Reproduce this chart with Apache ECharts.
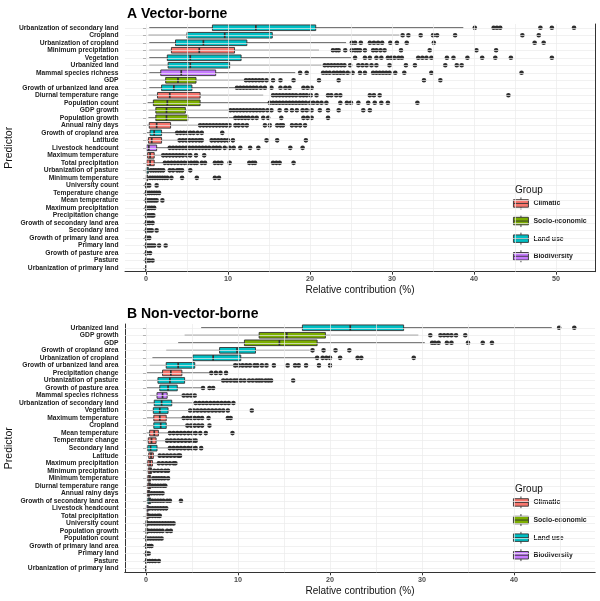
<!DOCTYPE html>
<html>
<head>
<meta charset="utf-8">
<script src="https://cdn.jsdelivr.net/npm/echarts@6/dist/echarts.min.js"></script>
<style>
  html, body { margin: 0; padding: 0; background: #fff; }
  #chart { width: 600px; height: 601px; }
</style>
</head>
<body>
<div id="chart"></div>
<script>
// --- groups ---
var groupNames = ['Climatic', 'Socio-economic', 'Land use', 'Biodiversity'];
var groupColors = ['#F8766D', '#7CAE00', '#00BFC4', '#C77CFF'];
var predictorGroup = {
  'Urbanization of secondary land': 'Land use',
  'Cropland': 'Land use',
  'Urbanization of cropland': 'Land use',
  'Minimum precipitation': 'Climatic',
  'Vegetation': 'Land use',
  'Urbanized land': 'Land use',
  'Mammal species richness': 'Biodiversity',
  'GDP': 'Socio-economic',
  'Growth of urbanized land area': 'Land use',
  'Diurnal temperature range': 'Climatic',
  'Population count': 'Socio-economic',
  'GDP growth': 'Socio-economic',
  'Population growth': 'Socio-economic',
  'Annual rainy days': 'Climatic',
  'Growth of cropland area': 'Land use',
  'Latitude': 'Climatic',
  'Livestock headcount': 'Biodiversity',
  'Maximum temperature': 'Climatic',
  'Total precipitation': 'Climatic',
  'Urbanization of pasture': 'Land use',
  'Minimum temperature': 'Climatic',
  'University count': 'Socio-economic',
  'Temperature change': 'Climatic',
  'Mean temperature': 'Climatic',
  'Maximum precipitation': 'Climatic',
  'Precipitation change': 'Climatic',
  'Growth of secondary land area': 'Land use',
  'Secondary land': 'Land use',
  'Growth of primary land area': 'Land use',
  'Primary land': 'Land use',
  'Growth of pasture area': 'Land use',
  'Pasture': 'Land use',
  'Urbanization of primary land': 'Land use'
};

// --- A: vector-borne ---
var predictorsA = [
  'Urbanization of secondary land', 'Cropland', 'Urbanization of cropland', 'Minimum precipitation',
  'Vegetation', 'Urbanized land', 'Mammal species richness', 'GDP', 'Growth of urbanized land area',
  'Diurnal temperature range', 'Population count', 'GDP growth', 'Population growth', 'Annual rainy days',
  'Growth of cropland area', 'Latitude', 'Livestock headcount', 'Maximum temperature', 'Total precipitation',
  'Urbanization of pasture', 'Minimum temperature', 'University count', 'Temperature change',
  'Mean temperature', 'Maximum precipitation', 'Precipitation change', 'Growth of secondary land area',
  'Secondary land', 'Growth of primary land area', 'Primary land', 'Growth of pasture area', 'Pasture',
  'Urbanization of primary land'
];
// [lower whisker, Q1, median, Q3, upper whisker]
var statsA = [
  [0.4, 8.1, 13.4, 20.7, 38.7],
  [0.3, 5.0, 9.6, 15.4, 30.9],
  [0.4, 3.6, 7.0, 12.3, 24.4],
  [0.4, 3.1, 6.5, 10.8, 21.1],
  [0.4, 2.6, 5.4, 11.6, 25.0],
  [0.4, 2.7, 5.4, 10.2, 21.4],
  [0.4, 1.8, 4.3, 8.5, 18.2],
  [0.4, 2.4, 3.9, 6.1, 12.0],
  [0.4, 1.9, 3.4, 5.6, 10.9],
  [0.3, 1.4, 2.9, 6.6, 14.3],
  [0.2, 0.9, 2.6, 6.6, 14.9],
  [0.3, 1.2, 2.5, 4.8, 10.1],
  [0.3, 1.2, 2.5, 5.1, 10.7],
  [0.1, 0.4, 1.3, 3.0, 6.5],
  [0.1, 0.5, 1.0, 1.9, 3.7],
  [0.0, 0.3, 0.7, 1.9, 3.9],
  [0.0, 0.1, 0.35, 1.3, 2.8],
  [0.0, 0.2, 0.5, 1.0, 2.0],
  [0.0, 0.1, 0.5, 1.0, 2.2],
  [0.0, 0.05, 0.1, 0.3, 0.5],
  [0.0, 0.05, 0.1, 0.2, 0.4],
  [0, 0, 0.02, 0.05, 0.08],
  [0, 0, 0.02, 0.05, 0.08],
  [0, 0, 0.02, 0.05, 0.08],
  [0, 0, 0.02, 0.05, 0.08],
  [0, 0, 0.02, 0.05, 0.08],
  [0, 0, 0.02, 0.05, 0.08],
  [0, 0, 0.02, 0.05, 0.08],
  [0, 0, 0.02, 0.05, 0.08],
  [0, 0, 0.02, 0.05, 0.08],
  [0, 0, 0.02, 0.05, 0.08],
  [0, 0, 0.02, 0.05, 0.08],
  [0, 0, 0, 0, 0]
];
var outliersA = [
  [40.1, 42.4, 42.8, 43.2, 48.1, 49.5, 52.2],
  [31.3, 32.0, 33.5, 35.0, 35.5, 37.7, 45.9, 47.9],
  [25.1, 25.5, 26.2, 27.3, 27.8, 28.3, 28.8, 29.8, 30.6, 31.8, 35.1, 47.4, 48.5],
  [22.8, 23.2, 23.5, 24.3, 25.1, 25.5, 25.8, 26.1, 26.7, 27.7, 28.1, 28.6, 29.1, 31.1, 34.6, 40.3, 42.7],
  [25.5, 26.7, 27.3, 28.1, 28.7, 29.5, 29.9, 30.3, 30.8, 31.2, 33.2, 33.7, 34.2, 34.8, 36.7, 37.5, 39.2, 41.0, 42.6, 44.5, 49.5],
  [21.8, 22.2, 22.6, 23.0, 23.4, 23.8, 24.2, 24.9, 25.9, 26.4, 26.9, 27.5, 28.1, 29.7, 31.7, 32.8, 36.5, 37.9, 38.5],
  [18.8, 19.6, 21.6, 22.0, 22.4, 22.9, 23.3, 23.7, 24.1, 24.6, 25.2, 26.1, 26.7, 27.7, 28.1, 28.5, 28.9, 29.3, 29.7, 30.4, 31.5, 34.8, 45.8],
  [12.2, 12.6, 13.0, 13.4, 13.8, 14.2, 14.7, 15.5, 16.4, 18.0, 21.1, 23.5, 33.9, 35.9],
  [11.1, 11.5, 11.9, 12.3, 12.7, 13.1, 13.5, 14.0, 14.5, 15.3, 16.4, 17.0, 17.5, 19.2, 19.7, 20.2],
  [15.5, 15.9, 16.3, 16.7, 17.1, 17.5, 17.9, 18.3, 18.8, 19.2, 19.6, 20.1, 20.8, 22.2, 22.6, 23.2, 23.7, 27.3, 27.8, 28.5, 44.2],
  [15.1, 15.5, 15.9, 16.3, 16.7, 17.1, 17.5, 17.9, 18.3, 18.7, 19.1, 19.5, 20.0, 20.4, 20.9, 21.4, 22.0, 23.7, 24.5, 25.0, 25.9, 27.1, 27.9, 28.7, 29.5, 33.1],
  [10.3, 10.7, 11.1, 11.5, 11.9, 12.3, 12.7, 13.1, 13.5, 13.9, 14.3, 14.8, 15.3, 16.3, 17.1, 17.8, 18.4, 19.1, 19.6, 20.2, 21.2, 22.2, 23.5, 26.5, 27.3],
  [10.9, 11.3, 11.7, 12.1, 12.5, 13.0, 13.5, 14.3, 14.9, 16.5, 19.2, 19.7, 20.2, 22.2],
  [6.6, 7.0, 7.4, 7.8, 8.2, 8.6, 9.0, 9.4, 9.8, 10.2, 10.9, 11.3, 11.8, 12.3, 14.5, 15.1, 16.0, 16.4, 16.7, 17.8, 18.3, 18.8, 19.4],
  [3.8, 4.2, 4.6, 5.0, 5.4, 5.8, 6.3, 6.8, 9.3],
  [4.1, 4.5, 4.9, 5.3, 5.7, 6.1, 6.5, 6.8, 8.0, 8.4, 8.8, 9.2, 9.6, 10.0, 10.6, 14.7, 16.0, 19.5],
  [2.9, 3.3, 3.7, 4.1, 4.5, 4.9, 5.3, 5.7, 6.1, 6.5, 6.9, 7.3, 7.7, 8.2, 8.6, 9.0, 9.6, 10.2, 10.7, 11.5, 12.7, 13.7, 17.6, 19.1],
  [2.1, 2.5, 2.9, 3.3, 3.7, 4.1, 4.5, 5.0, 5.4, 6.1, 7.1],
  [2.3, 2.7, 3.1, 3.5, 3.9, 4.3, 4.7, 5.1, 5.5, 5.9, 6.2, 6.8, 7.2, 8.4, 8.8, 9.2, 10.2, 12.6, 13.0, 13.3, 15.5, 15.9, 16.3, 18.0],
  [0.6, 0.9, 1.2, 1.5, 1.8, 2.1, 2.9, 3.3, 3.8, 4.1, 4.4, 5.4],
  [0.5, 0.8, 1.1, 1.4, 1.7, 2.0, 2.3, 2.6, 3.1, 4.4, 6.2, 8.4, 8.9],
  [0.1, 0.4, 1.3],
  [0.1, 0.4, 0.7, 1.0, 1.3, 1.6],
  [0.1, 0.4, 0.7, 1.0, 1.3, 2.0],
  [0.1, 0.4, 0.7, 1.0],
  [0.1, 0.4, 0.7, 0.9],
  [0.1, 0.4, 0.8],
  [0.1, 0.4, 0.7, 1.3],
  [0.1, 0.4],
  [0.1, 0.4, 0.7, 1.0, 1.6, 2.4],
  [0.1, 0.5],
  [0.1, 0.4, 0.8],
  []
];

// --- B: non-vector-borne ---
var predictorsB = [
  'Urbanized land', 'GDP growth', 'GDP', 'Growth of cropland area', 'Urbanization of cropland',
  'Growth of urbanized land area', 'Precipitation change', 'Urbanization of pasture', 'Growth of pasture area',
  'Mammal species richness', 'Urbanization of secondary land', 'Vegetation', 'Maximum temperature', 'Cropland',
  'Mean temperature', 'Temperature change', 'Secondary land', 'Latitude', 'Maximum precipitation',
  'Minimum precipitation', 'Minimum temperature', 'Diurnal temperature range', 'Annual rainy days',
  'Growth of secondary land area', 'Livestock headcount', 'Total precipitation', 'University count',
  'Population growth', 'Population count', 'Growth of primary land area', 'Primary land', 'Pasture',
  'Urbanization of primary land'
];
var statsB = [
  [6.0, 17.0, 22.2, 28.0, 44.1],
  [4.2, 12.3, 15.3, 19.5, 29.6],
  [3.5, 10.7, 14.5, 18.6, 30.3],
  [2.2, 8.0, 9.9, 11.9, 17.8],
  [0.7, 5.1, 7.3, 10.3, 18.4],
  [0.4, 2.2, 3.5, 5.3, 9.6],
  [0.1, 1.8, 2.7, 3.9, 7.0],
  [0.1, 1.3, 2.6, 4.2, 8.3],
  [0.1, 1.5, 2.4, 3.4, 6.0],
  [0.4, 1.2, 1.8, 2.3, 4.0],
  [0.1, 0.9, 1.7, 2.8, 5.3],
  [0.1, 0.8, 1.5, 2.4, 4.7],
  [0.1, 0.85, 1.5, 2.2, 4.0],
  [0.1, 0.85, 1.6, 2.2, 4.4],
  [0.0, 0.4, 0.9, 1.35, 2.5],
  [0.0, 0.25, 0.6, 1.1, 2.2],
  [0.0, 0.2, 0.5, 1.2, 2.5],
  [0.0, 0.3, 0.55, 0.8, 1.5],
  [0.0, 0.2, 0.45, 0.7, 1.3],
  [0.0, 0.25, 0.45, 0.6, 0.9],
  [0.0, 0.2, 0.35, 0.5, 0.7],
  [0.0, 0.2, 0.35, 0.5, 0.6],
  [0.0, 0.15, 0.3, 0.4, 0.5],
  [0.0, 0.2, 0.35, 0.5, 0.6],
  [0.0, 0.05, 0.1, 0.25, 0.35],
  [0.0, 0.05, 0.1, 0.25, 0.35],
  [0.0, 0.02, 0.05, 0.15, 0.25],
  [0.0, 0.02, 0.05, 0.15, 0.25],
  [0, 0, 0.02, 0.05, 0.1],
  [0, 0, 0.02, 0.05, 0.08],
  [0, 0, 0.02, 0.05, 0.08],
  [0, 0, 0.02, 0.05, 0.08],
  [0, 0, 0, 0, 0]
];
var outliersB = [
  [44.9, 46.55],
  [30.9, 32.0, 32.4, 32.8, 33.2, 33.7, 34.7],
  [31.1, 31.4, 31.8, 32.7, 33.2, 35.0, 36.6, 37.6],
  [18.1, 19.3, 20.6, 22.1],
  [18.6, 19.2, 19.6, 20.0, 21.1, 23.0, 23.4, 29.1],
  [9.7, 10.1, 10.5, 10.9, 11.3, 11.8, 12.1, 12.6, 13.1, 13.9, 15.4, 16.2, 16.6, 17.4, 18.8, 20.0],
  [7.1, 7.6, 8.1, 8.7],
  [8.4, 8.8, 9.2, 9.6, 9.9, 10.3, 10.7, 11.2, 11.6, 12.0, 12.3, 12.6, 13.0, 13.3, 13.6, 16.0],
  [6.2, 6.9, 7.3],
  [4.1, 4.5, 4.9, 5.3],
  [5.4, 5.8, 6.2, 6.6, 7.0, 7.4, 7.8, 8.2, 8.6, 9.0, 9.5],
  [4.8, 5.2, 5.6, 6.0, 6.4, 6.8, 7.2, 7.6, 8.0, 8.4, 8.9, 11.5],
  [4.1, 4.5, 4.9, 5.3, 5.7, 6.1, 6.8, 8.9, 9.2],
  [4.5, 4.9, 5.3, 5.7, 6.1, 6.9],
  [2.6, 3.0, 3.4, 3.8, 4.2, 4.6, 5.0, 5.4, 5.9, 6.5, 9.4],
  [2.3, 2.7, 3.1, 3.5, 3.9, 4.3, 4.7, 5.1, 5.4],
  [2.6, 3.0, 3.4, 3.8, 4.2, 4.6, 5.0, 5.4, 6.0],
  [1.5, 1.9, 2.3, 2.7, 3.1, 3.5, 3.7],
  [1.4, 1.8, 2.2, 2.6, 3.0, 3.2],
  [0.9, 1.3, 1.7, 2.1, 2.4],
  [0.8, 1.1, 1.4, 1.7, 2.0, 2.4],
  [0.7, 1.0, 1.3, 1.6, 1.9, 2.1],
  [0.6, 0.9, 1.2, 1.5, 1.8],
  [0.7, 1.0, 1.3, 1.6, 1.9, 2.3, 2.6, 3.8],
  [0.4, 0.7, 1.0, 1.3, 1.6, 1.9, 2.2],
  [0.4, 0.7, 1.0, 1.3, 1.5],
  [0.3, 0.6, 0.9, 1.2, 1.5, 1.8, 2.1, 2.4, 2.7, 3.0],
  [0.3, 0.6, 0.9, 1.2, 1.5, 1.8, 2.3, 2.7],
  [0.2, 0.5, 0.8, 1.1, 1.4, 1.7],
  [0.1, 0.4, 0.6],
  [0.1, 0.3],
  [0.1, 0.4, 0.7, 1.0, 1.4],
  []
];

var ticksA = [0, 10, 20, 30, 40, 50];
var ticksB = [0, 10, 20, 30, 40];
var gridStepsA = [0, 5, 10, 15, 20, 25, 30, 35, 40, 45, 50];
var gridStepsB = [0, 5, 10, 15, 20, 25, 30, 35, 40, 45];

var ink = '#333333';
var font = 'Liberation Sans, Arial, sans-serif';

function renderBox(params, api) {
  var cat = api.value(0);
  var lo = api.coord([api.value(1), cat]);
  var q1 = api.coord([api.value(2), cat]);
  var md = api.coord([api.value(3), cat]);
  var q3 = api.coord([api.value(4), cat]);
  var hi = api.coord([api.value(5), cat]);
  var h = api.size([0, 1])[1] * 0.75;
  var y = lo[1];
  return {
    type: 'group',
    children: [
      { type: 'line', shape: { x1: lo[0], y1: y, x2: hi[0], y2: y }, style: { stroke: ink, lineWidth: 0.9 } },
      { type: 'rect', shape: { x: q1[0], y: y - h / 2, width: q3[0] - q1[0], height: h },
        style: { fill: api.visual('color'), stroke: ink, lineWidth: 0.9 } },
      { type: 'line', shape: { x1: md[0], y1: y - h / 2, x2: md[0], y2: y + h / 2 }, style: { stroke: ink, lineWidth: 1.7 } }
    ]
  };
}

function panelSeries(names, stats, outliers, steps, xi, yi) {
  var list = [];
  // grid lines
  var lines = [];
  steps.forEach(function(v) { lines.push({ xAxis: v }); });
  names.forEach(function(n) { lines.push({ yAxis: n }); });
  list.push({
    type: 'line', xAxisIndex: xi, yAxisIndex: yi, data: [], z: 1, silent: true,
    markLine: {
      silent: true, symbol: 'none', animation: false,
      label: { show: false },
      lineStyle: { color: '#EBEBEB', width: 0.7, type: 'solid' },
      emphasis: { disabled: true },
      data: lines
    }
  });
  groupNames.forEach(function(g, gi) {
    var data = [];
    names.forEach(function(n, i) {
      if (predictorGroup[n] === g) data.push([i].concat(stats[i]));
    });
    list.push({
      type: 'custom', name: g, xAxisIndex: xi, yAxisIndex: yi, z: 3,
      itemStyle: { color: groupColors[gi] },
      encode: { x: [1, 2, 3, 4, 5], y: 0 },
      renderItem: renderBox,
      data: data
    });
  });
  var pts = [];
  outliers.forEach(function(arr, i) {
    arr.forEach(function(v) { pts.push([v, i]); });
  });
  list.push({
    type: 'scatter', xAxisIndex: xi, yAxisIndex: yi, z: 4, silent: true,
    symbol: 'circle', symbolSize: 4.6,
    itemStyle: { color: '#2E2E2E', opacity: 1 },
    data: pts
  });
  return list;
}

function valueAxis(gi, min, max, ticks) {
  return {
    type: 'value', gridIndex: gi, min: min, max: max,
    axisLine: { show: true, onZero: false, lineStyle: { color: ink, width: 1 } },
    axisTick: { show: true, customValues: ticks, length: 3, lineStyle: { color: ink } },
    axisLabel: { customValues: ticks, fontSize: 7.2, fontWeight: 'bold', color: '#4D4D4D', fontFamily: font, margin: 4 },
    splitLine: { show: false },
    name: 'Relative contribution (%)', nameLocation: 'middle', nameGap: 14,
    nameTextStyle: { fontSize: 10, color: '#111', fontFamily: font }
  };
}

function catAxis(gi, names) {
  return {
    type: 'category', gridIndex: gi, data: names, inverse: true,
    axisLine: { show: false },
    axisTick: { show: true, alignWithLabel: true, length: 3, lineStyle: { color: ink } },
    axisLabel: { fontSize: 6.7, fontWeight: 'bold', color: '#222', fontFamily: font, margin: 6.5, interval: 0 },
    splitLine: { show: false },
    name: 'Predictor', nameLocation: 'middle', nameRotate: 90, nameGap: 110, nameMoveOverlap: false,
    nameTextStyle: { fontSize: 10.5, color: '#111', fontFamily: font }
  };
}

function borderAxisY(gi) {
  return {
    type: 'value', gridIndex: gi, position: 'right',
    axisLine: { show: true, lineStyle: { color: ink, width: 1 } },
    axisTick: { show: false }, axisLabel: { show: false }, splitLine: { show: false }
  };
}

var legendIcon = 'path://M7.5,0L7.5,2.25M0,2.25L15,2.25L15,9.75L0,9.75ZM7.5,9.75L7.5,12M0,6L15,6';

function legend(top) {
  return {
    data: groupNames, orient: 'vertical', left: 513, top: top,
    itemWidth: 15, itemHeight: 12, itemGap: 4.7, padding: 0,
    icon: legendIcon, selectedMode: false,
    itemStyle: { borderColor: ink, borderWidth: 0.9 },
    textStyle: { fontSize: 6.9, fontWeight: 'bold', color: '#222', fontFamily: font }
  };
}

var chart = echarts.init(document.getElementById('chart'), null, { renderer: 'canvas' });
chart.setOption({
  animation: false,
  backgroundColor: '#fff',
  title: [
    { text: 'A Vector-borne', left: 122, top: 2, textStyle: { fontSize: 14, fontWeight: 'bold', color: '#000', fontFamily: font } },
    { text: 'B Non-vector-borne', left: 122, top: 302, textStyle: { fontSize: 14, fontWeight: 'bold', color: '#000', fontFamily: font } },
    { text: 'Group', left: 510, top: 180, textStyle: { fontSize: 10, fontWeight: 'normal', color: '#111', fontFamily: font } },
    { text: 'Group', left: 510, top: 479, textStyle: { fontSize: 10, fontWeight: 'normal', color: '#111', fontFamily: font } }
  ],
  legend: [legend(197), legend(496)],
  grid: [
    { left: 125, top: 24, width: 470, height: 247.7, outerBoundsMode: 'none', containLabel: false },
    { left: 125, top: 324, width: 470, height: 248.3, outerBoundsMode: 'none', containLabel: false }
  ],
  xAxis: [
    valueAxis(0, -2.56, 54.76, ticksA),
    valueAxis(1, -2.28, 48.8, ticksB),
    {
      type: 'value', gridIndex: 1, position: 'top',
      axisLine: { show: true, lineStyle: { color: ink, width: 1 } },
      axisTick: { show: false }, axisLabel: { show: false }, splitLine: { show: false }
    }
  ],
  yAxis: [
    catAxis(0, predictorsA),
    catAxis(1, predictorsB),
    borderAxisY(0),
    borderAxisY(1)
  ],
  series: panelSeries(predictorsA, statsA, outliersA, gridStepsA, 0, 0)
    .concat(panelSeries(predictorsB, statsB, outliersB, gridStepsB, 1, 1))
});
</script>
</body>
</html>
